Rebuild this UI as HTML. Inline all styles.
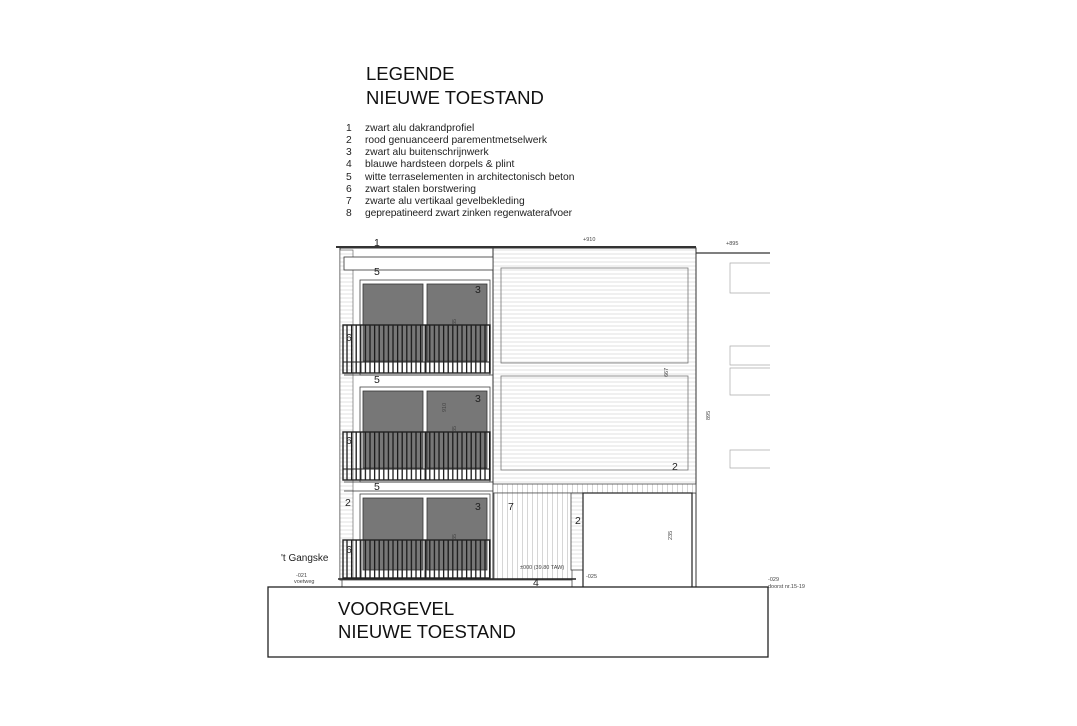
<!DOCTYPE html>
<html><head><meta charset="utf-8"><style>
html,body{margin:0;padding:0;background:#fff;}
svg{display:block;font-family:"Liberation Sans",Arial,sans-serif;}
</style></head><body>
<svg width="1077" height="726" viewBox="0 0 1077 726" xmlns="http://www.w3.org/2000/svg">
<defs>
<pattern id="hl" width="8" height="4" patternUnits="userSpaceOnUse"><rect width="8" height="4" fill="#fff"/><line x1="0" y1="2" x2="8" y2="2" stroke="#ccc" stroke-width="0.6"/></pattern>
<pattern id="vl" width="5" height="8" patternUnits="userSpaceOnUse"><rect width="5" height="8" fill="#fff"/><line x1="2.5" y1="0" x2="2.5" y2="8" stroke="#bbb" stroke-width="0.6"/></pattern>
<pattern id="bal" width="4.6" height="10" patternUnits="userSpaceOnUse"><line x1="2" y1="0" x2="2" y2="10" stroke="#1a1a1a" stroke-width="1.3"/></pattern>
</defs>
<rect width="1077" height="726" fill="#fff"/>
<text x="366" y="80" font-size="18.5" fill="#111">LEGENDE</text>
<text x="366" y="104" font-size="18.5" fill="#111">NIEUWE TOESTAND</text>
<g font-size="10.3" fill="#222">
<text x="346" y="131">1</text><text x="365" y="131">zwart alu dakrandprofiel</text>
<text x="346" y="143">2</text><text x="365" y="143">rood genuanceerd parementmetselwerk</text>
<text x="346" y="155">3</text><text x="365" y="155">zwart alu buitenschrijnwerk</text>
<text x="346" y="167">4</text><text x="365" y="167">blauwe hardsteen dorpels &amp; plint</text>
<text x="346" y="180">5</text><text x="365" y="180">witte terraselementen in architectonisch beton</text>
<text x="346" y="192">6</text><text x="365" y="192">zwart stalen borstwering</text>
<text x="346" y="204">7</text><text x="365" y="204">zwarte alu vertikaal gevelbekleding</text>
<text x="346" y="216">8</text><text x="365" y="216" textLength="207">geprepatineerd zwart zinken regenwaterafvoer</text>
</g>
<rect x="493" y="248" width="203" height="245" fill="url(#hl)" stroke="#333" stroke-width="1"/>
<rect x="501" y="268" width="187" height="95" fill="none" stroke="#777" stroke-width="0.8"/>
<rect x="501" y="376" width="187" height="94" fill="none" stroke="#777" stroke-width="0.8"/>
<rect x="340" y="248" width="153" height="332" fill="#fff" stroke="#333" stroke-width="1"/>
<rect x="340" y="250" width="13" height="330" fill="url(#hl)" stroke="#555" stroke-width="0.6"/>
<rect x="344" y="257" width="149" height="13" fill="#fff" stroke="#333" stroke-width="0.8"/>
<line x1="336" y1="247" x2="696" y2="247" stroke="#333" stroke-width="2"/>
<line x1="696" y1="253" x2="770" y2="253" stroke="#333" stroke-width="1.2"/>
<line x1="696" y1="253" x2="696" y2="590" stroke="#333" stroke-width="1"/>
<g stroke="#aaa" stroke-width="0.7" fill="none">
<path d="M770 263H730V293H770"/><path d="M770 346H730V365H770"/><path d="M770 368H730V395H770"/><path d="M770 450H730V468H770"/>
</g>
<g id="f">
<rect x="360" y="280" width="130" height="95" fill="#fff" stroke="#444" stroke-width="0.8"/>
<rect x="363" y="284" width="60" height="77" fill="#777" stroke="#333" stroke-width="0.8"/>
<rect x="427" y="284" width="60" height="77" fill="#777" stroke="#333" stroke-width="0.8"/>
<rect x="343" y="325" width="147" height="48" fill="url(#bal)" stroke="#222" stroke-width="1.4"/>
<line x1="343" y1="362" x2="490" y2="362" stroke="#222" stroke-width="1"/>
<line x1="426" y1="325" x2="426" y2="373" stroke="#222" stroke-width="1"/>
</g>
<use href="#f" y="107"/>
<g>
<rect x="360" y="494" width="130" height="86" fill="#fff" stroke="#444" stroke-width="0.8"/>
<rect x="363" y="498" width="60" height="72" fill="#777" stroke="#333" stroke-width="0.8"/>
<rect x="427" y="498" width="60" height="72" fill="#777" stroke="#333" stroke-width="0.8"/>
<rect x="343" y="540" width="147" height="38" fill="url(#bal)" stroke="#222" stroke-width="1.4"/>
<line x1="426" y1="540" x2="426" y2="578" stroke="#222" stroke-width="1"/>
</g>
<line x1="344" y1="375" x2="493" y2="375" stroke="#333" stroke-width="0.8"/>
<line x1="344" y1="482" x2="493" y2="482" stroke="#333" stroke-width="0.8"/>
<line x1="344" y1="491" x2="493" y2="491" stroke="#333" stroke-width="0.8"/>
<rect x="493" y="484" width="203" height="9" fill="url(#vl)" stroke="#444" stroke-width="0.8"/>
<rect x="494" y="493" width="78" height="87" fill="url(#vl)" stroke="#555" stroke-width="0.8"/>
<rect x="571" y="493" width="12" height="77" fill="url(#hl)" stroke="#444" stroke-width="0.8"/>
<rect x="583" y="493" width="109" height="95" fill="#fff" stroke="#222" stroke-width="1.2"/>
<line x1="338" y1="579" x2="576" y2="579" stroke="#222" stroke-width="1.5"/>
<rect x="342" y="580" width="230" height="8" fill="#fff" stroke="#444" stroke-width="0.8"/>
<rect x="268" y="587" width="500" height="70" fill="#fff" stroke="#222" stroke-width="1.3"/>
<text x="338" y="615" font-size="18.5" fill="#111">VOORGEVEL</text>
<text x="338" y="638" font-size="18.5" fill="#111">NIEUWE TOESTAND</text>
<text x="281" y="561" font-size="10" fill="#222">'t Gangske</text>
<g font-size="10.5" fill="#222">
<text x="374" y="246">1</text>
<text x="374" y="275">5</text><text x="374" y="383">5</text><text x="374" y="490">5</text>
<text x="475" y="293">3</text><text x="475" y="402">3</text><text x="475" y="510">3</text>
<text x="346" y="341">6</text><text x="346" y="444">6</text><text x="346" y="553">6</text>
<text x="345" y="506">2</text><text x="575" y="524">2</text><text x="672" y="470">2</text>
<text x="508" y="510">7</text><text x="533" y="586">4</text>
</g>
<g font-size="5.5" fill="#444">
<text x="583" y="241">+910</text><text x="726" y="245">+895</text>
<text x="520" y="569">±000 (39.80 TAW)</text><text x="586" y="578">-025</text>
<text x="296" y="577">-021</text><text x="294" y="583">voetweg</text>
<text x="768" y="581">-029</text><text x="768" y="588">doorst nr.15-19</text>
<text transform="translate(668,377) rotate(-90)">667</text>
<text transform="translate(710,420) rotate(-90)">895</text>
<text transform="translate(672,540) rotate(-90)">235</text>
<text transform="translate(456,325) rotate(-90)">35</text>
<text transform="translate(456,432) rotate(-90)">35</text>
<text transform="translate(456,540) rotate(-90)">35</text>
<text transform="translate(446,412) rotate(-90)">910</text>
</g>
</svg>
</body></html>
